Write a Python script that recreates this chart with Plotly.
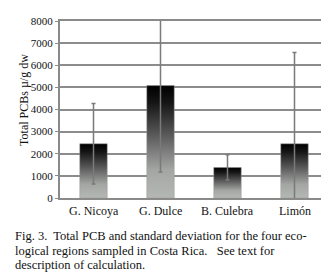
import plotly.graph_objects as go

categories = ["G. Nicoya", "G. Dulce", "B. Culebra", "Limón"]
pcb_total = [2450, 5080, 1380, 2450]
pcb_sd = [1820, 3900, 570, 4130]
y_ticks = [0, 1000, 2000, 3000, 4000, 5000, 6000, 7000, 8000]
caption_lines = [
    "Fig. 3.  Total PCB and standard deviation for the four eco-",
    "logical regions sampled in Costa Rica.   See text for",
    "description of calculation.",
]

W, H = 329, 273
ML, MR, MT, MB = 52, 7, 10, 83
plot_w = W - ML - MR
plot_h = H - MT - MB
serif = "Liberation Serif, Times New Roman, serif"
bar_w = 0.41

fig = go.Figure()
xs = list(range(len(categories)))
for i, v in zip(xs, pcb_total):
    x0, x1 = i - bar_w / 2, i + bar_w / 2
    fig.add_trace(go.Scatter(
        x=[x0, x0, x1, x1, x0], y=[0, v, v, 0, 0],
        mode="lines", fill="toself",
        line=dict(width=0.5, color="#9a9a9a"),
        fillgradient=dict(type="vertical",
                          colorscale=[[0, "#b4b8b4"], [0.25, "#a4a6a4"],
                                      [0.6, "#505050"], [0.85, "#151515"], [1, "#000000"]]),
        showlegend=False, hoverinfo="skip"))

fig.add_trace(go.Scatter(
    x=xs, y=pcb_total, mode="markers", marker=dict(opacity=0, size=1),
    error_y=dict(type="data", array=pcb_sd, visible=True, color="#7a7a7a",
                 thickness=1.5, width=2),
    showlegend=False, hoverinfo="skip"))

fig.update_xaxes(range=[-0.5, len(categories) - 0.5], tickvals=xs, ticktext=[""] * len(xs),
                 showgrid=False, showline=True, linecolor="#8a8a8a", linewidth=2,
                 mirror=True, ticks="", zeroline=False)
fig.update_yaxes(range=[0, 8000], tickvals=y_ticks, showgrid=True, gridcolor="#8c8c8c",
                 gridwidth=1.5, showline=True, linecolor="#8a8a8a", linewidth=2,
                 mirror=True, ticks="outside", ticklen=3, tickcolor="#8a8a8a",
                 zeroline=False, tickfont=dict(family=serif, size=11, color="#111"))

annotations = [dict(text="Total PCBs µ/g dw", textangle=-90, xref="paper", yref="paper",
                    x=(15 - ML) / plot_w, y=(MT + plot_h - 90) / plot_h,
                    showarrow=False, font=dict(family=serif, size=12, color="#111"),
                    xanchor="center", yanchor="middle")]
for i, c in zip(xs, categories):
    annotations.append(dict(text=c, x=i, xref="x", yref="paper",
                            y=(MT + plot_h - 203) / plot_h, xanchor="center",
                            yanchor="middle", showarrow=False,
                            font=dict(family=serif, size=12, color="#111")))
for k, line in enumerate(caption_lines):
    py = 229 + 14.5 * k
    annotations.append(dict(text=line, xref="paper", yref="paper",
                            x=(5 - ML) / plot_w, y=(MT + plot_h - py) / plot_h,
                            xanchor="left", yanchor="middle", showarrow=False,
                            font=dict(family=serif, size=12.5, color="#111")))

fig.update_layout(width=W, height=H, margin=dict(l=ML, r=MR, t=MT, b=MB),
                  paper_bgcolor="white", plot_bgcolor="white",
                  annotations=annotations)
fig.write_html("out.html")
